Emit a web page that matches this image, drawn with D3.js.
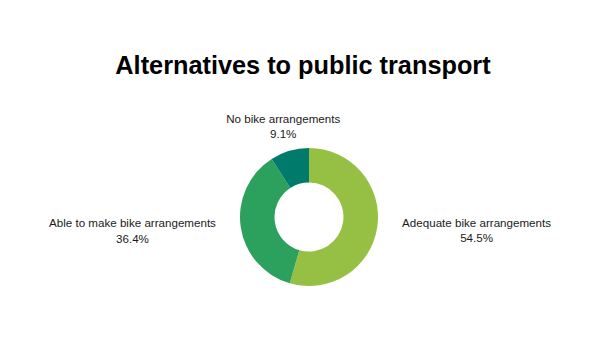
<!DOCTYPE html>
<html>
<head>
<meta charset="utf-8">
<script src="https://cdn.jsdelivr.net/npm/d3@7"></script>
<style>
  html, body { margin: 0; padding: 0; background: #fff; }
  svg { display: block; font-family: "Liberation Sans", Arial, sans-serif; }
</style>
</head>
<body>
<svg id="chart" width="600" height="338"></svg>
<script>
const title = "Alternatives to public transport";
const categories = ["Adequate bike arrangements", "Able to make bike arrangements", "No bike arrangements"];
const values = [54.5, 36.4, 9.1];
const valueLabels = ["54.5%", "36.4%", "9.1%"];
const colors = ["#95c043", "#2ca05d", "#007b6b"];

const width = 600, height = 338;
const cx = 309, cy = 217;
const outerR = 69, innerR = 34.5, labelR = 88;

const svg = d3.select("#chart");
svg.append("rect").attr("width", width).attr("height", height).attr("fill", "#fff");

svg.append("text")
  .attr("x", width / 2 + 3).attr("y", 73.5)
  .attr("text-anchor", "middle")
  .attr("font-size", 25.3).attr("font-weight", "bold").attr("fill", "#000")
  .text(title);

const data = categories.map((c, i) => ({ cat: c, value: values[i], label: valueLabels[i], color: colors[i] }));
const pie = d3.pie().value(d => d.value).sort(null);
const arcs = pie(data);
const arc = d3.arc().innerRadius(innerR).outerRadius(outerR);

const g = svg.append("g").attr("transform", `translate(${cx},${cy})`);
g.selectAll("path").data(arcs).join("path")
  .attr("d", arc).attr("fill", d => d.data.color);

const lineH = 15.8;
arcs.forEach(a => {
  const mid = (a.startAngle + a.endAngle) / 2;
  const sx = Math.sin(mid), sy = -Math.cos(mid);
  const x = sx * labelR, y = sy * labelR;
  const t = g.append("text").attr("text-anchor", "middle").attr("font-size", 11.6).attr("fill", "#1a1a1a");
  const l1 = t.append("tspan").text(a.data.cat);
  const l2 = t.append("tspan").text(a.data.label);
  const w = l1.node().getComputedTextLength();
  let bx, y0;
  if (Math.abs(sx) > 0.5) {
    bx = sx > 0 ? x + 6 + w / 2 : x - 6 - w / 2;
    y0 = y - 2.7;
  } else {
    bx = x - 1;
    y0 = sy < 0 ? y - 10 : y + 14;
  }
  l1.attr("x", bx).attr("y", y0);
  l2.attr("x", bx).attr("y", y0 + lineH);
});
</script>
</body>
</html>
